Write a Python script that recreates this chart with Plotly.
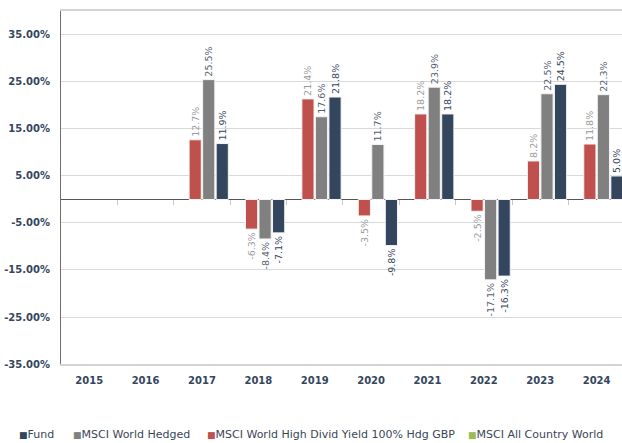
import plotly.graph_objects as go

years = ["2015", "2016", "2017", "2018", "2019", "2020", "2021", "2022", "2023", "2024"]
fund = [None, None, 11.9, -7.1, 21.8, -9.8, 18.2, -16.3, 24.5, 5.0]
msci_hedged = [None, None, 25.5, -8.4, 17.6, 11.7, 23.9, -17.1, 22.5, 22.3]
msci_high_div = [None, None, 12.7, -6.3, 21.4, -3.5, 18.2, -2.5, 8.2, 11.8]
msci_acwi = [None] * 10
y_ticks = [35, 25, 15, 5, -5, -15, -25, -35]

names = ["Fund", "MSCI World Hedged", "MSCI World High Divid Yield 100% Hdg GBP", "MSCI All Country World"]
colors = ["#34465d", "#808080", "#c0504d", "#9bbb59"]
label_colors = ["#34465d", "#55606e", "#9a9a9a", "#9a9a9a"]

W, H = 622, 443
ML, MR, MT, MB = 61, 0, 11, 79
Y0, Y1 = -35, 40.1
X0, X1 = -0.5, 9.45
idx = list(range(len(years)))

fig = go.Figure()
series = [(3, msci_acwi), (2, msci_high_div), (1, msci_hedged), (0, fund)]
for k, vals in series:
    fig.add_trace(go.Bar(
        x=idx, y=vals, name=names[k],
        marker=dict(color=colors[k], line=dict(color="#f4f4f4", width=1)),
        texttemplate="%{y:.1f}%", textposition="outside", textangle=-90,
        constraintext="none",
        textfont=dict(family="DejaVu Sans", size=9.5, color=label_colors[k]),
        cliponaxis=False, showlegend=False,
    ))

# helper trace for the tick axis at zero
fig.add_trace(go.Scatter(x=[], y=[], xaxis="x2", showlegend=False, hoverinfo="skip"))

axis_font = dict(family="DejaVu Sans", size=10, color="#34465d", weight="bold")

fig.update_layout(
    width=W, height=H,
    margin=dict(l=ML, r=MR, t=MT, b=MB, pad=0),
    paper_bgcolor="white", plot_bgcolor="white",
    barmode="group", bargap=0.04, bargroupgap=0.1,
    xaxis=dict(
        range=[X0, X1], tickvals=idx, ticktext=years, tickfont=axis_font,
        showgrid=False, showline=True, linecolor="#d4d4d4", linewidth=2, mirror=True,
        ticks="", zeroline=False, ticklabelstandoff=6,
    ),
    xaxis2=dict(
        overlaying="x", anchor="free",
        position=(0 - Y0) / (Y1 - Y0),
        range=[X0, X1], tickvals=[i + 0.5 for i in idx[:-1]],
        ticks="outside", ticklen=5, tickcolor="#c8c8c8", tickwidth=1,
        showticklabels=False, showgrid=False, showline=False, zeroline=False,
    ),
    yaxis=dict(
        range=[Y0, Y1], tickvals=y_ticks, ticktext=[f"{v:.2f}%" for v in y_ticks],
        tickfont=axis_font, showgrid=True, gridcolor="#d9d9d9", gridwidth=1,
        showline=True, linecolor="#6f6f6f", linewidth=1,
        zeroline=True, zerolinecolor="#555555", zerolinewidth=1,
        ticks="", ticklabelstandoff=8,
    ),
)

plot_w = W - ML - MR
plot_h = H - MT - MB


def px_x(px):
    return (px - ML) / plot_w


def px_y(py):
    return (H - MB - py) / plot_h


legend_x = [17, 71, 205, 466]
for k, xp in enumerate(legend_x):
    fig.add_annotation(
        xref="paper", yref="paper", x=px_x(xp), y=px_y(434),
        xanchor="left", yanchor="middle", showarrow=False,
        text=f'<span style="color:{colors[k]};font-size:9px">■</span>{names[k]}',
        font=dict(family="DejaVu Sans", size=11, color="#3a4656"),
    )

fig.write_html("out.html", config={"displayModeBar": False},
               post_script="document.body.style.margin='0';")
